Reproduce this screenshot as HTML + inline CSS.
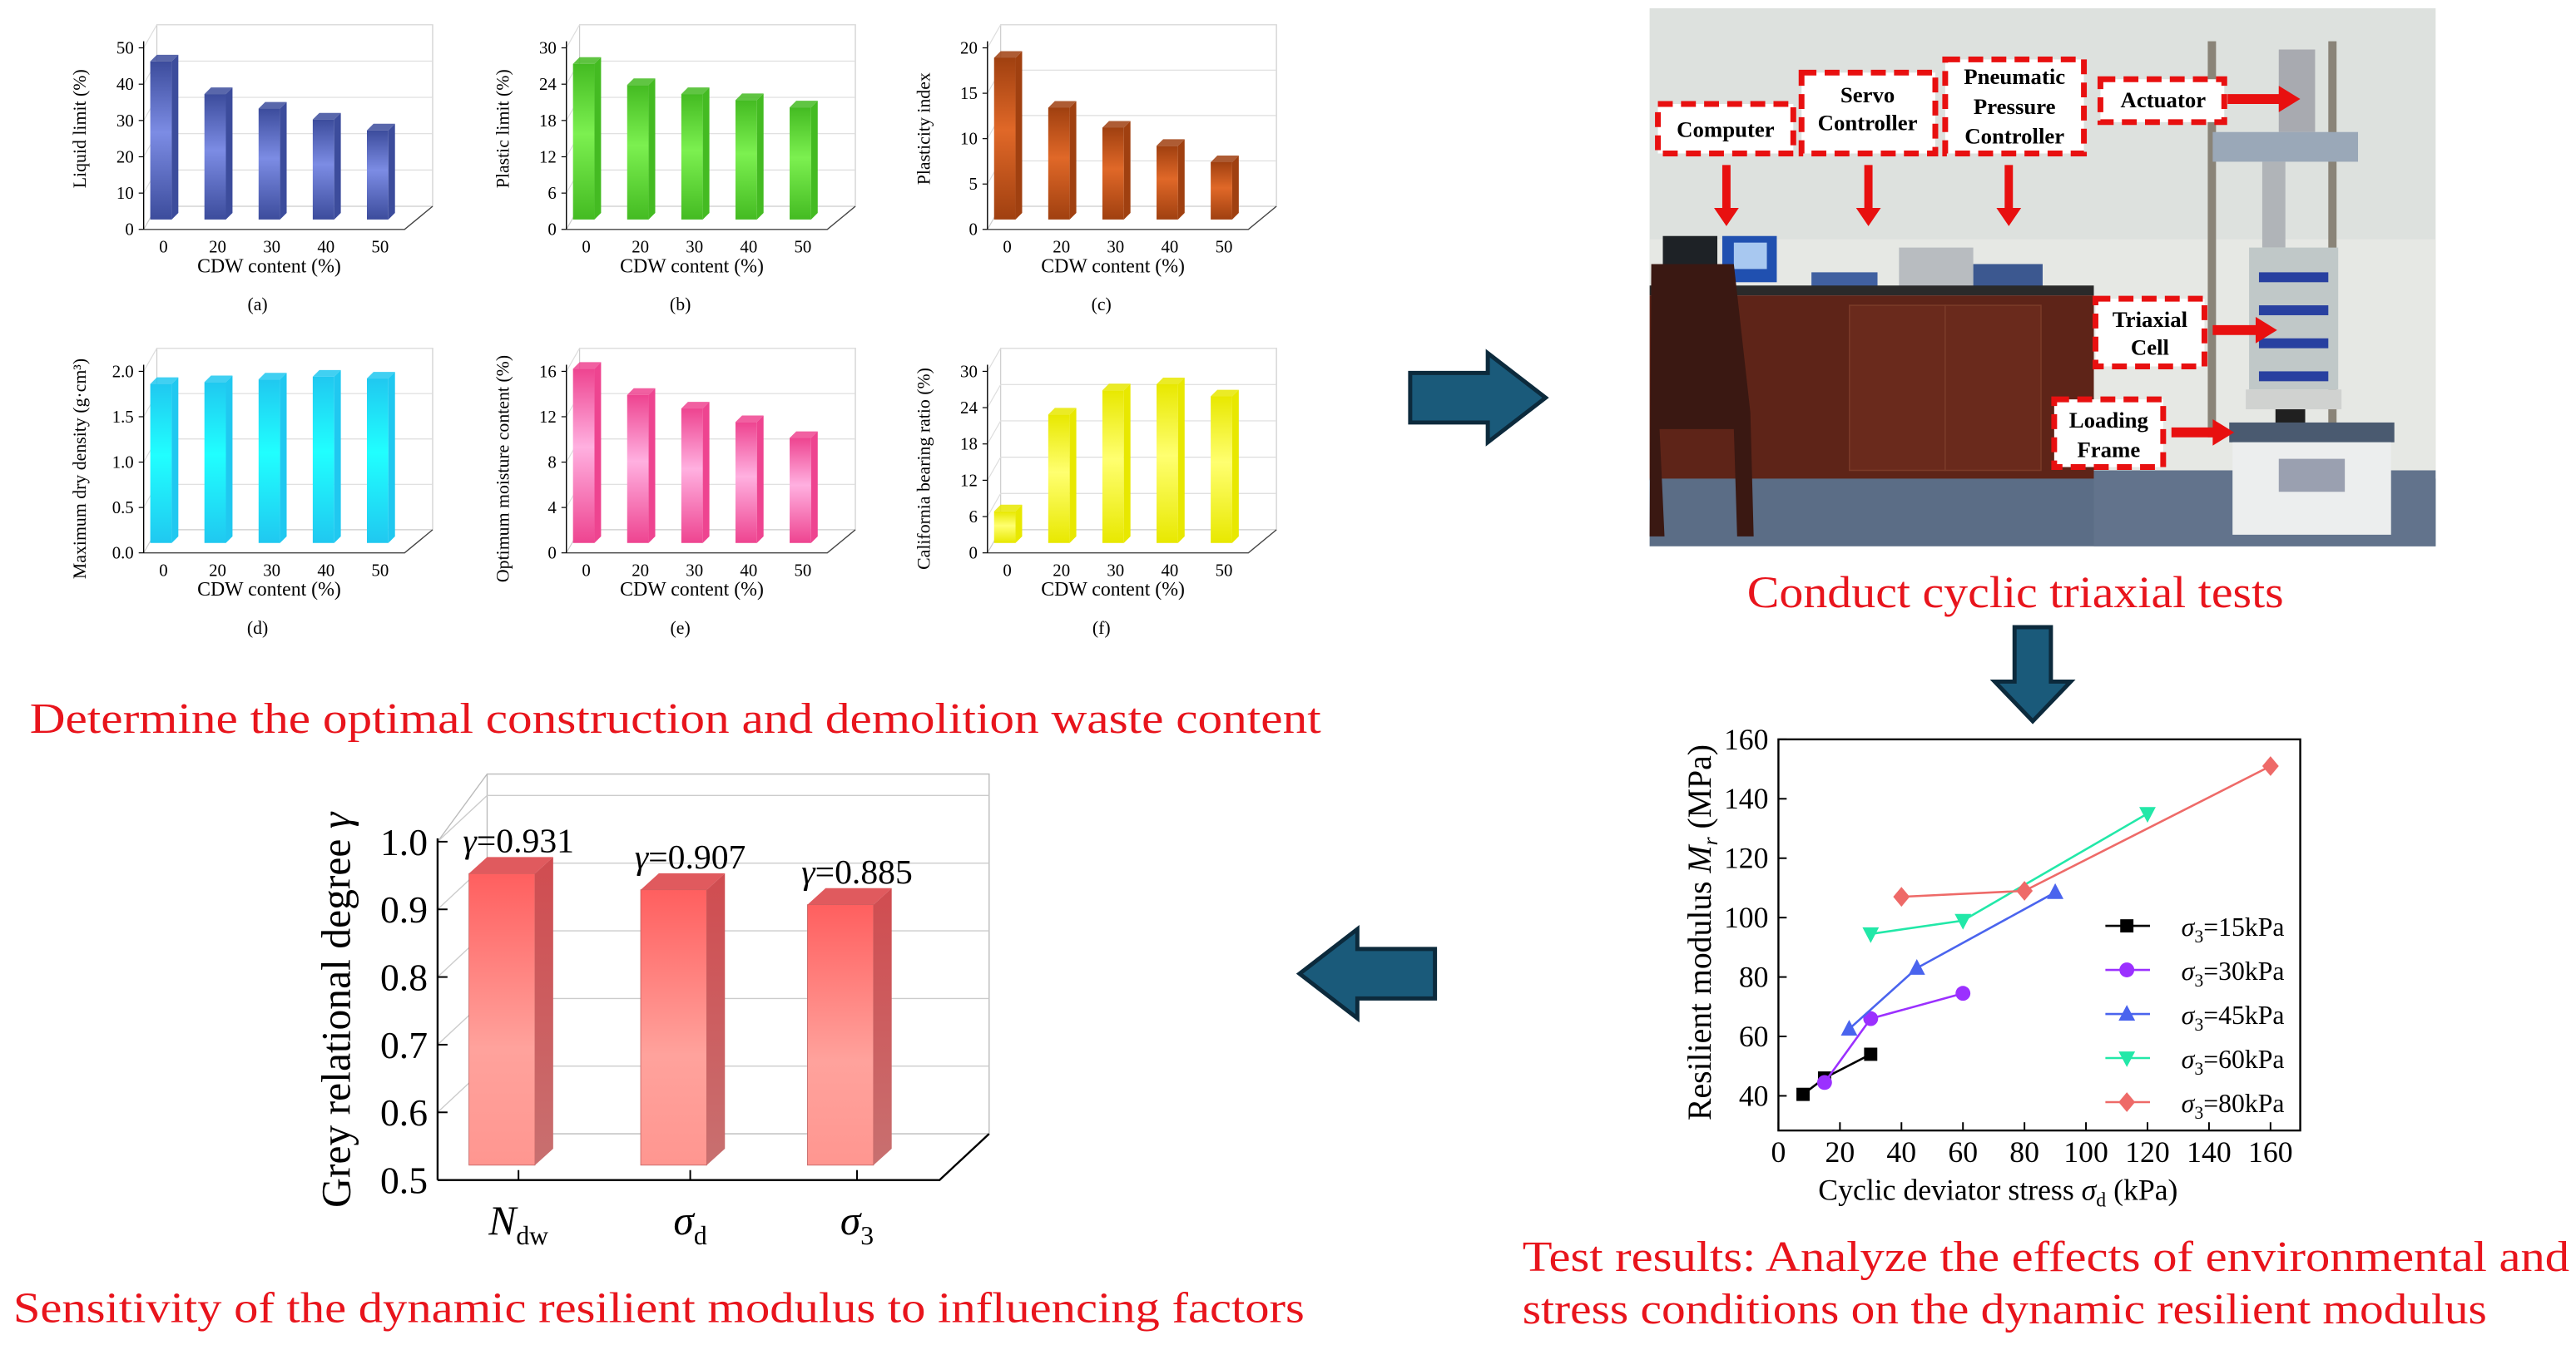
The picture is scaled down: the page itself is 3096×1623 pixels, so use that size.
<!DOCTYPE html>
<html><head><meta charset="utf-8"><style>
html,body{margin:0;padding:0;background:#fff;}
svg{display:block;font-family:"Liberation Serif",serif;}
</style></head><body>
<svg id="root" width="3096" height="1623" viewBox="0 0 1560 818" preserveAspectRatio="none" xmlns="http://www.w3.org/2000/svg">
<defs>
<linearGradient id="gRed" x1="0" y1="0" x2="0" y2="1"><stop offset="0" stop-color="#ff5f5f"/><stop offset="0.6" stop-color="#ffa29c"/><stop offset="1" stop-color="#ff9690"/></linearGradient>
<linearGradient id="gRedS" x1="0" y1="0" x2="0" y2="1"><stop offset="0" stop-color="#d04c50"/><stop offset="1" stop-color="#c87070"/></linearGradient>
</defs>
<g id="small"></g>
<text x="18" y="444" font-size="26" fill="#e8141c" textLength="782" lengthAdjust="spacingAndGlyphs">Determine the optimal construction and demolition waste content</text>

<polygon points="854,226 901,226 901,214 936,241 901,268 901,256 854,256" fill="#1a5a7a" stroke="#0c2a3c" stroke-width="2.5"/>
<polygon points="1220,380 1242,380 1242,413 1254,413 1231,437 1208,413 1220,413" fill="#1a5a7a" stroke="#0c2a3c" stroke-width="2.5"/>
<polygon points="869,575 822,575 822,563 787,590 822,617 822,605 869,605" fill="#1a5a7a" stroke="#0c2a3c" stroke-width="2.5"/>

<g>
<rect x="999" y="5" width="476" height="326" fill="#dde1de"/>
<rect x="999" y="145" width="476" height="140" fill="#e6e8e4"/>
<rect x="1007" y="143" width="33" height="32" fill="#1e2226"/>
<rect x="1043" y="143" width="33" height="28" fill="#2050b0"/>
<rect x="1050" y="147" width="20" height="16" fill="#a8c8f0"/>
<rect x="1097" y="165" width="40" height="13" fill="#4060a0"/>
<rect x="1150" y="150" width="45" height="25" fill="#b8bcc0"/>
<rect x="1195" y="160" width="42" height="16" fill="#3c5890"/>
<rect x="999" y="173" width="269" height="6" fill="#2a2a2a"/>
<rect x="999" y="179" width="269" height="112" fill="#5e2418"/>
<rect x="1120" y="185" width="58" height="100" fill="#6a2a1c" stroke="#7a3a28" stroke-width="0.8"/>
<rect x="1178" y="185" width="58" height="100" fill="#6a2a1c" stroke="#7a3a28" stroke-width="0.8"/>
<rect x="999" y="290" width="476" height="41" fill="#5b6d86"/>
<rect x="1268" y="285" width="207" height="46" fill="#62738c"/>
<path d="M1000 160 L1050 160 L1060 250 L1062 325 L1052 325 L1050 260 L1005 260 L1008 325 L999 325 Z" fill="#3a1812"/>
<rect x="1337" y="25" width="5" height="240" fill="#8a8478"/>
<rect x="1410" y="25" width="5" height="240" fill="#8a8478"/>
<rect x="1380" y="30" width="22" height="50" fill="#a8aab0"/>
<rect x="1340" y="80" width="88" height="18" fill="#9aa8b8"/>
<rect x="1370" y="98" width="14" height="52" fill="#b0b4b8"/>
<rect x="1362" y="150" width="54" height="86" fill="#c0c8c8"/>
<rect x="1368" y="165" width="42" height="6" fill="#2840a0"/>
<rect x="1368" y="185" width="42" height="6" fill="#2840a0"/>
<rect x="1368" y="205" width="42" height="6" fill="#2840a0"/>
<rect x="1368" y="225" width="42" height="6" fill="#2840a0"/>
<rect x="1360" y="236" width="58" height="12" fill="#d0d2d0"/>
<rect x="1378" y="248" width="18" height="16" fill="#202020"/>
<rect x="1350" y="256" width="100" height="12" fill="#4a5a70"/>
<rect x="1352" y="268" width="96" height="56" fill="#eceeee"/>
<rect x="1380" y="278" width="40" height="20" fill="#9aa0b0"/>
</g>
<g font-weight="bold" font-size="13.5" text-anchor="middle" fill="#000">
<g fill="#fff" stroke="#e81010" stroke-width="3.5" stroke-dasharray="9,5">
<rect x="1004" y="63" width="82" height="30"/>
<rect x="1091" y="44" width="81" height="49"/>
<rect x="1178" y="36" width="84" height="57"/>
<rect x="1272" y="48" width="75" height="26"/>
<rect x="1269" y="181" width="66" height="41"/>
<rect x="1244" y="242" width="66" height="41"/>
</g>
<text x="1045" y="83">Computer</text>
<text x="1131" y="62">Servo</text>
<text x="1131" y="79">Controller</text>
<text x="1220" y="51">Pneumatic</text>
<text x="1220" y="69">Pressure</text>
<text x="1220" y="87">Controller</text>
<text x="1310" y="65">Actuator</text>
<text x="1302" y="198">Triaxial</text>
<text x="1302" y="215">Cell</text>
<text x="1277" y="259">Loading</text>
<text x="1277" y="277">Frame</text>
<g fill="#e81010">
<polygon points="1043,100 1048,100 1048,126 1053,126 1045.5,137 1038,126 1043,126"/>
<polygon points="1129,100 1134,100 1134,126 1139,126 1131.5,137 1124,126 1129,126"/>
<polygon points="1214,100 1219,100 1219,126 1224,126 1216.5,137 1209,126 1214,126"/>
<polygon points="1349,57 1380,57 1380,52 1393,60 1380,68 1380,63 1349,63"/>
<polygon points="1340,197 1366,197 1366,192 1379,200 1366,208 1366,203 1340,203"/>
<polygon points="1315,259 1340,259 1340,254 1353,262 1340,270 1340,265 1315,265"/>
</g>
</g>
<text x="1058" y="368" font-size="27" fill="#e8141c" textLength="325" lengthAdjust="spacingAndGlyphs">Conduct cyclic triaxial tests</text>

<g id="line"></g>
<text x="922" y="770" font-size="26" fill="#e8141c" textLength="634" lengthAdjust="spacingAndGlyphs">Test results: Analyze the effects of environmental and</text>
<text x="922" y="802" font-size="26" fill="#e8141c" textLength="584" lengthAdjust="spacingAndGlyphs">stress conditions on the dynamic resilient modulus</text>

<g id="grey"></g>
<text x="8" y="801" font-size="26" fill="#e8141c" textLength="782" lengthAdjust="spacingAndGlyphs">Sensitivity of the dynamic resilient modulus to influencing factors</text>
</svg>
<script>
const NS="http://www.w3.org/2000/svg";
function mk(p,tag,at,txt){const e=document.createElementNS(NS,tag);for(const k in at)e.setAttribute(k,at[k]);if(txt!==undefined)e.textContent=txt;p.appendChild(e);return e;}

const cdwCategories=["0","20","30","40","50"];
const liquidLimit=[44,35,31,28,25];
const plasticLimit=[26,22.5,21,20,18.8];
const plasticityIndex=[18,12.5,10.3,8.3,6.5];
const maxDryDensity=[1.77,1.79,1.82,1.85,1.83];
const optMoisture=[15.5,13.2,12,10.8,9.4];
const cbrValues=[5.5,21.5,25.5,26.5,24.5];
const ticksA=[0,10,20,30,40,50];
const ticksB=[0,6,12,18,24,30];
const ticksC=[0,5,10,15,20];
const ticksD=["0.0","0.5","1.0","1.5","2.0"];
const ticksE=[0,4,8,12,16];
const ticksF=[0,6,12,18,24,30];

const smallCharts=[
 {id:"a",ox:0,oy:0,vals:liquidLimit,ticks:ticksA,max:50,title:"Liquid limit (%)",c1:"#3c4c9c",c2:"#7c8ce4"},
 {id:"b",ox:256,oy:0,vals:plasticLimit,ticks:ticksB,max:30,title:"Plastic limit (%)",c1:"#44bb22",c2:"#7cf050"},
 {id:"c",ox:511,oy:0,vals:plasticityIndex,ticks:ticksC,max:20,title:"Plasticity index",c1:"#a04010",c2:"#e06828"},
 {id:"d",ox:0,oy:196,vals:maxDryDensity,ticks:ticksD,max:2,title:"Maximum dry density (g·cm³)",c1:"#20c8f0",c2:"#20ffff"},
 {id:"e",ox:256,oy:196,vals:optMoisture,ticks:ticksE,max:16,title:"Optimum moisture content (%)",c1:"#ee4490",c2:"#ffb0e0"},
 {id:"f",ox:511,oy:196,vals:cbrValues,ticks:ticksF,max:30,title:"California bearing ratio (%)",c1:"#e8e800",c2:"#ffff70"}
];
const small=document.getElementById("small");
const defs=document.querySelector("defs");
smallCharts.forEach(ch=>{
  const g=mk(small,"g",{transform:`translate(${ch.ox},${ch.oy})`});
  
  
  const y=v=>139-v/ch.max*110;
  const xOf=i=>99+i*32.8;
  const gr=mk(defs,"linearGradient",{id:"sg"+ch.id,x1:0,y1:0,x2:0,y2:1});
  mk(gr,"stop",{offset:0,"stop-color":ch.c1});mk(gr,"stop",{offset:0.45,"stop-color":ch.c2});mk(gr,"stop",{offset:1,"stop-color":ch.c1});
  mk(g,"polyline",{points:"87,139 95,125 95,15 262,15 262,125 95,125",fill:"none",stroke:"#ccc","stroke-width":0.6});
  mk(g,"polyline",{points:"87,139 245,139 262,125",fill:"none",stroke:"#444","stroke-width":0.7});
  ch.ticks.forEach(t=>{const v=parseFloat(t);const yy=y(v);
    if(v>0) mk(g,"polyline",{points:`87,${yy} 95,${yy-14} 262,${yy-14}`,fill:"none",stroke:"#ddd","stroke-width":0.6});
    mk(g,"line",{x1:84,y1:yy,x2:87,y2:yy,stroke:"#000","stroke-width":0.6});
    const tl=mk(g,"text",{x:81,y:yy+3.5,"font-size":10.5,"text-anchor":"end"},String(t));
    
    
  });
  mk(g,"line",{x1:87,y1:y(ch.max)-4,x2:87,y2:139,stroke:"#000","stroke-width":0.7});
  ch.vals.forEach((v,i)=>{const x=xOf(i)-8,w=13,top=y(v)-5,base=133;
    const b=mk(g,"rect",{x:x,y:top,width:w,height:base-top,fill:`url(#sg${ch.id})`});
    
    
    mk(g,"polygon",{points:`${x},${top} ${x+4},${top-4} ${x+w+4},${top-4} ${x+w},${top}`,fill:ch.c1,opacity:0.85});
    mk(g,"polygon",{points:`${x+w},${top} ${x+w+4},${top-4} ${x+w+4},${base-4} ${x+w},${base}`,fill:ch.c1});
    mk(g,"text",{x:xOf(i),y:153,"font-size":10.5,"text-anchor":"middle"},cdwCategories[i]);
  });
  const xt=mk(g,"text",{x:163,y:165,"font-size":12,"text-anchor":"middle"},"CDW content (%)");
  
  
  const yt=mk(g,"text",{transform:`translate(52,${ch.oy>0?88:78}) rotate(-90)`,"font-size":11,"text-anchor":"middle"},ch.title);
  
  
  mk(g,"text",{x:156,y:188,"font-size":11,"text-anchor":"middle"},"("+ch.id+")");
});

const xTicks=[0,20,40,60,80,100,120,140,160];
const yTicks=[40,60,80,100,120,140,160];
const seriesNames=["σ3=15kPa","σ3=30kPa","σ3=45kPa","σ3=60kPa","σ3=80kPa"];
const s15x=[8,15,30], s15y=[40.5,46,54];
const s30x=[15,30,60], s30y=[44.5,66,74.5];
const s45x=[23,45,90], s45y=[62.5,83,108.5];
const s60x=[30,60,120], s60y=[94.5,99,135];
const s80x=[40,80,160], s80y=[107,109,151];
const lg=document.getElementById("line");
const X=v=>1077+v*1.8625, Y=v=>664-(v-40)*1.8;
mk(lg,"rect",{x:1077,y:448,width:316,height:237,fill:"none",stroke:"#000","stroke-width":1.2});
xTicks.forEach(t=>{mk(lg,"line",{x1:X(t),y1:685,x2:X(t),y2:680,stroke:"#000"});
  const tl=mk(lg,"text",{x:X(t),y:704,"font-size":18,"text-anchor":"middle"},String(t));
  
  });
yTicks.forEach(t=>{mk(lg,"line",{x1:1077,y1:Y(t),x2:1082,y2:Y(t),stroke:"#000"});
  const tl=mk(lg,"text",{x:1071,y:Y(t)+6,"font-size":18,"text-anchor":"end"},String(t));
  
  });
const xt2=mk(lg,"text",{x:1210,y:727,"font-size":18,"text-anchor":"middle"});


xt2.innerHTML='Cyclic deviator stress <tspan font-style="italic">σ</tspan><tspan font-size="12" dy="4">d</tspan><tspan dy="-4"> (kPa)</tspan>';
const yt2=mk(lg,"text",{transform:"translate(1036,565) rotate(-90)","font-size":20,"text-anchor":"middle"});


yt2.innerHTML='Resilient modulus <tspan font-style="italic">M</tspan><tspan font-style="italic" font-size="13" dy="4">r</tspan><tspan dy="-4"> (MPa)</tspan>';
const series=[[s15x,s15y,"#000","square"],[s30x,s30y,"#9b30ff","circle"],[s45x,s45y,"#4a64ee","tri"],[s60x,s60y,"#22e8a8","tridown"],[s80x,s80y,"#ee6a68","diamond"]];
function marker(p,x,y,c,type){let e;
  if(type==="square")e=mk(p,"rect",{x:x-4,y:y-4,width:8,height:8,fill:c});
  else if(type==="circle")e=mk(p,"circle",{cx:x,cy:y,r:4.5,fill:c});
  else if(type==="tri")e=mk(p,"polygon",{points:`${x},${y-5.5} ${x+5},${y+4} ${x-5},${y+4}`,fill:c});
  else if(type==="tridown")e=mk(p,"polygon",{points:`${x},${y+5.5} ${x+5},${y-4} ${x-5},${y-4}`,fill:c});
  else e=mk(p,"polygon",{points:`${x},${y-6} ${x+5},${y} ${x},${y+6} ${x-5},${y}`,fill:c});
  return e;}
series.forEach((s,k)=>{
  const pts=s[0].map((xv,i)=>X(xv)+","+Y(s[1][i])).join(" ");
  const pl=mk(lg,"polyline",{points:pts,fill:"none",stroke:s[2],"stroke-width":1.3});
  
  
  s[0].forEach((xv,i)=>{const m=marker(lg,X(xv),Y(s[1][i]),s[2],s[3]);
    
    });
  const ly=561+k*26.7;
  mk(lg,"line",{x1:1275,y1:ly,x2:1302,y2:ly,stroke:s[2],"stroke-width":1.3});
  marker(lg,1288,ly,s[2],s[3]);
  const lt=mk(lg,"text",{x:1321,y:ly+6,"font-size":16});
  
  
  lt.innerHTML='<tspan font-style="italic">σ</tspan><tspan font-size="11" dy="4">3</tspan><tspan dy="-4">'+seriesNames[k].slice(2)+'</tspan>';
});

const factorLabels=["N","σ","σ"];
const factorSubs=["dw","d","3"];
const greyValues=[0.931,0.907,0.885];
const greyTicks=["0.5","0.6","0.7","0.8","0.9","1.0"];
const gg=document.getElementById("grey");
const GY=v=>715-(v-0.5)*410;
const GX=[314,418,519];
const dx=30,dy=28;
mk(gg,"polyline",{points:`265,${GY(1.0)} 295,${GY(1.1)} 599,${GY(1.1)} 599,${715-dy} 295,${715-dy} 295,${GY(1.1)}`,fill:"none",stroke:"#bbb","stroke-width":0.7});
greyTicks.forEach(t=>{const v=parseFloat(t),yy=GY(v);
  if(v>0.5) mk(gg,"polyline",{points:`265,${yy} 295,${yy-dy} 599,${yy-dy}`,fill:"none",stroke:"#ccc","stroke-width":0.7});
  mk(gg,"line",{x1:265,y1:yy,x2:271,y2:yy,stroke:"#000"});
  const tl=mk(gg,"text",{x:259,y:yy+8,"font-size":23,"text-anchor":"end"},t);
  
  });
mk(gg,"line",{x1:265,y1:GY(1.0)-2,x2:265,y2:715,stroke:"#000","stroke-width":1.2});
mk(gg,"polyline",{points:`265,715 569,715 599,${715-dy}`,fill:"none",stroke:"#000","stroke-width":1.2});
greyValues.forEach((v,i)=>{const x=GX[i]-30,w=40,top=GY(v)-9,base=706;
  const b=mk(gg,"rect",{x:x,y:top,width:w,height:base-top,fill:"url(#gRed)",stroke:"#c06060","stroke-width":0.4});
  
  
  mk(gg,"polygon",{points:`${x},${top} ${x+11},${top-10} ${x+w+11},${top-10} ${x+w},${top}`,fill:"#e05a5e"});
  mk(gg,"polygon",{points:`${x+w},${top} ${x+w+11},${top-10} ${x+w+11},${base-10} ${x+w},${base}`,fill:"url(#gRedS)"});
  mk(gg,"line",{x1:GX[i],y1:715,x2:GX[i],y2:709,stroke:"#000"});
  const vl=mk(gg,"text",{x:GX[i],y:top-13,"font-size":21,"text-anchor":"middle"});
  
  
  vl.innerHTML='<tspan font-style="italic">γ</tspan>='+v.toFixed(3);
  const xl=mk(gg,"text",{x:GX[i],y:748,"font-size":25,"text-anchor":"middle"});
  
  
  xl.innerHTML='<tspan font-style="italic">'+factorLabels[i]+'</tspan><tspan font-size="16" dy="6">'+factorSubs[i]+'</tspan>';
});
const gyt=mk(gg,"text",{transform:"translate(212,612) rotate(-90)","font-size":25,"text-anchor":"middle"});


gyt.innerHTML='Grey relational degree <tspan font-style="italic">γ</tspan>';
</script>
</body></html>
